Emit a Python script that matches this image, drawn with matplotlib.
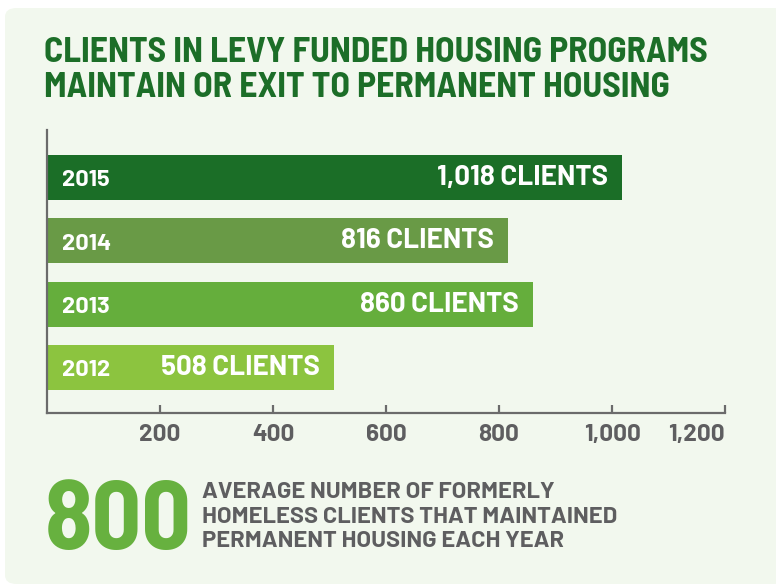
import matplotlib
matplotlib.use("Agg")
import matplotlib.pyplot as plt
from matplotlib.patches import FancyBboxPatch

# data
years = ["2012", "2013", "2014", "2015"]
clients = [508, 860, 816, 1018]
bar_colors = ["#8cc43f", "#65ae3c", "#699a46", "#1b6e27"]
xticks = [200, 400, 600, 800, 1000, 1200]
xtick_labels = ["200", "400", "600", "800", "1,000", "1,200"]
title_lines = ["CLIENTS IN LEVY FUNDED HOUSING PROGRAMS",
               "MAINTAIN OR EXIT TO PERMANENT HOUSING"]
avg_value = "800"
avg_lines = ["AVERAGE NUMBER OF FORMERLY",
             "HOMELESS CLIENTS THAT MAINTAINED",
             "PERMANENT HOUSING EACH YEAR"]

semi = ['Barlow Semi Condensed', 'DejaVu Sans']
wide = ['Barlow', 'DejaVu Sans']
plt.rcParams['font.family'] = wide

W, H = 776, 588
fig = plt.figure(figsize=(W / 100, H / 100), dpi=100, facecolor="white")

bg = FancyBboxPatch((5 / W, 4 / H), 780 / W, 576 / H,
                    boxstyle="round,pad=0,rounding_size=0.015",
                    transform=fig.transFigure, facecolor="#f2f8ee",
                    edgecolor="none", zorder=-5)
fig.patches.append(bg)

gray = "#5e5e60"
green_title = "#1c6e28"

ax = fig.add_axes([47 / W, 1 - 413 / H, (725 - 47) / W, (413 - 130) / H])
ax.set_facecolor("none")
pos = list(range(len(years)))
ax.barh(pos, clients, height=0.71, color=bar_colors, zorder=2)
ax.set_xlim(0, 1200)
ax.set_ylim(-0.72, 3.75)

for y, yr, v in zip(pos, years, clients):
    ax.annotate(yr, (0, y), xytext=(11, -2), textcoords="offset points",
                ha="left", va="center", color="white", fontsize=17,
                fontweight="bold", zorder=3)
    ax.annotate(f"{v:,} CLIENTS", (v, y), xytext=(-10, 0),
                textcoords="offset points", ha="right", va="center",
                color="white", fontsize=20, fontweight="bold", zorder=3)

for s in ["top", "right"]:
    ax.spines[s].set_visible(False)
for s in ["left", "bottom"]:
    ax.spines[s].set_color("#6b6b6b")
    ax.spines[s].set_linewidth(1.6)
ax.set_yticks([])
ax.set_xticks(xticks)
ax.set_xticklabels(xtick_labels, fontweight="bold")
ax.tick_params(axis="x", direction="in", length=6, width=1.6,
               color="#6b6b6b", pad=8, labelsize=17.5, labelcolor=gray)
ax.get_xticklabels()[-1].set_ha("right")

for i, line in enumerate(title_lines):
    fig.text(44 / W, 1 - (62 + 35 * i) / H, line, color=green_title,
             fontsize=25.7, fontweight="bold", family=semi, va="baseline")

fig.text(45 / W, 1 - 549 / H, avg_value, color="#67b13f", fontsize=70,
         fontweight="bold", family=semi, va="baseline")
for i, line in enumerate(avg_lines):
    fig.text(202 / W, 1 - (498 + 24.7 * i) / H, line, color=gray,
             fontsize=17, fontweight="bold", va="baseline")

fig.savefig("out.png", dpi=100, facecolor="white")
